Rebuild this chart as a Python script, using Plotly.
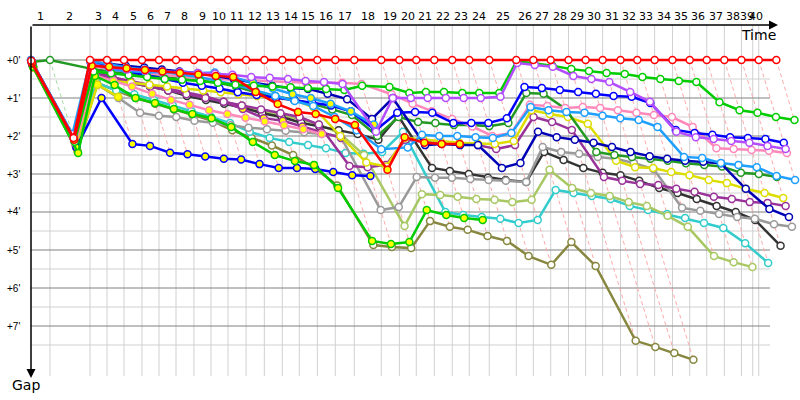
import plotly.graph_objects as go

# ---------------- data ----------------
# leader's cumulative race time at each line crossing (minutes), crossing 0 = start
leader_cross = [0.00, 1.65, 5.13, 6.61, 8.09, 9.65, 11.13, 12.61, 14.17, 15.65,
                17.13, 18.70, 20.29, 21.85, 23.33, 24.90, 26.46, 28.11, 30.46, 32.03,
                33.50, 35.07, 36.63, 38.11, 39.85, 42.20, 43.68, 45.19, 46.74, 48.23,
                49.71, 51.26, 52.72, 54.23, 55.78, 57.28, 58.76, 60.29, 61.78, 63.28,
                64.81]
# leader of each crossing (the dashed "same lap" lines take his colour)
crossing_leader = ["FG"] * 2 + ["LEAD"] * 39
# vertical lap grid (minutes)
grid_times = [1.65, 5.13, 6.61, 8.09, 9.65, 11.13, 12.61, 14.17, 15.65, 17.13,
              18.70, 20.29, 21.85, 23.33, 24.90, 26.46, 28.11, 30.46, 32.03, 33.50,
              35.07, 36.63, 38.11, 39.85, 42.20, 43.68, 45.19, 46.74, 48.23, 49.71,
              51.26, 52.72, 54.23, 55.78, 57.28, 58.76, 60.29, 61.78, 62.76, 63.28]
lap_labels = [str(i) for i in range(1, 41)]
gap_ticks = [0, 1, 2, 3, 4, 5, 6, 7]
gap_tick_labels = ["+0'", "+1'", "+2'", "+3'", "+4'", "+5'", "+6'", "+7'"]

N = None
# gaps to leader (minutes) at crossings 0..40
LEAD = [0.02, 2.05] + [0.0] * 39
RY = [0.08, 2.1, 0.15, 0.18, 0.22, 0.26, 0.3, 0.34, 0.38, 0.42, 0.45, 0.84, 1.16, 1.37, 1.42,
      1.55, 1.71, 2.89, 2.03, 2.18, 2.21, 2.21] + [N] * 19
G1 = [0.1, 2.15, 0.3, 0.35, 0.4, 0.45, 0.5, 0.52, 0.55, 0.6, 0.65, 0.68, 0.7, 0.72, 0.74, 0.76,
      0.79, 0.68, 0.71, 0.87, 0.84, 0.84, 0.87, 0.87, 0.87, 0.03, 0.08, 0.15, 0.24, 0.29, 0.34,
      0.37, 0.45, 0.5, 0.55, 0.58, 1.11, 1.32, 1.39, 1.5, 1.58]
GY = [0.18, 2.45, 0.42, 0.66, 1.0, 1.13, 1.29, 1.42, 1.53, 1.76, 2.16, 2.5, 2.66, 2.76, 3.37,
      4.76, 4.84, 4.79, 3.95, 4.08, 4.16, 4.21] + [N] * 19
BY = [0.12, 2.3, 1.0, 2.21, 2.26, 2.44, 2.48, 2.54, 2.6, 2.62, 2.74, 2.84, 2.84, 2.87, 2.95,
      3.03, 3.05] + [N] * 24
BL = [0.0, 2.0, 0.1, 0.2, 0.3, 0.4, 0.5, 0.6, 0.68, 0.75, 0.85, 0.92, 1.0, 1.05, 1.12, 1.2,
      1.35, 1.85, 1.39, 1.37, 1.39, 1.66, 1.66, 1.66, 1.53, 0.71, 0.74, 0.79, 0.84, 0.89, 0.95,
      0.97, 1.13, 1.84, 1.92, 1.97, 2.03, 2.05, 2.08, 2.18, N]
DB = [0.02, 2.0, 0.08, 0.1, 0.15, 0.2, 0.25, 0.3, 0.35, 0.42, 0.5, 0.6, 0.68, 0.74, 0.76, 0.89,
      1.03, 1.55, 1.0, 2.24, 2.21, 2.24, 2.24, 2.84, 2.71, 1.89, 2.03, 2.1, 2.18, 2.29, 2.42,
      2.53, 2.6, 2.65, 2.68, 2.72, 3.39, 3.92, 4.13, N, N]
VI = [0.05, 2.05, 0.12, 0.2, 0.25, 0.28, 0.3, 0.32, 0.34, 0.36, 0.39, 0.45, 0.47, 0.5, 0.55,
      0.58, 0.63, 1.89, 1.0, 1.0, 1.0, 1.0, 1.0, 1.0, 0.97, 0.08, 0.13, 0.18, 0.42, 0.5, 0.58,
      0.84, 1.1, 1.89, 2.03, 2.08, 2.13, 2.18, 2.26, 2.34, N]
PK = [0.1, 2.1, 0.15, 0.25, 0.3, 0.35, 0.4, 0.45, 0.48, 0.5, 0.52, 0.55, 0.57, 0.58, 0.6, 0.6,
      0.6, 0.63, 0.9, 1.15, 1.35, 1.55, 1.75, 2.0, 1.92, 1.18, 1.21, 1.26, 1.24, 1.26, 1.32,
      1.39, 1.45, 1.5, 1.76, 2.32, 2.34, 2.37, 2.39, 2.45, N]
PKY = [0.14, 2.2, 0.4, 0.55, 0.7, 0.89, 1.05, 1.18, 1.32, 1.42, 1.52, 1.62, 1.72, 1.82,
       1.95] + [N] * 26
LB = [0.0, 1.95, 0.02, 0.12, 0.2, 0.25, 0.3, 0.38, 0.45, 0.55, 0.65, 0.8, 0.95, 1.08, 1.21,
      1.5, 1.85, 2.35, 2.3, 1.97, 2.0, 2.0, 2.03, 2.05, 1.92, 1.24, 1.32, 1.37, 1.39, 1.47,
      1.53, 1.58, 1.76, 2.55, 2.58, 2.71, 2.76, 2.82, 3.05, 3.16, N]
LBY = [0.06, 2.0, 0.05, 0.26, 0.29, 0.32, 0.32, 0.32, 0.34, 0.33, 0.45, 0.6, 0.75, 0.9, 1.0,
       1.15, 1.35, 1.7] + [N] * 23
FG = [0.05, 0.0, 0.24, 0.3, 0.35, 0.4, 0.45, 0.5, 0.55, 0.6, 0.7, 0.85, 0.95, 1.05, 1.15,
      1.3, 1.45, 2.0, 1.5, 1.63, 1.66, 1.71, 1.71, 1.74, 1.66, 0.87, 0.89, 1.29, 2.42, 2.5,
      2.55, 2.6, 2.65, 2.72, 2.76, 2.8, 2.97, 3.0, 3.08, N, N]
YE = [0.16, 2.25, 0.45, 0.55, 0.6, 0.65, 0.7, 0.75, 0.8, 0.85, 0.9, 0.95, 1.0, 1.05, 1.25,
      2.0, 2.7, 2.8, 2.05, 2.1, 2.15, 2.18, 2.2, 2.21, 2.13, 1.32, 1.42, 1.5, 1.68, 2.65, 2.82,
      2.84, 2.95, 3.03, 3.16, 3.24, 3.39, 3.5, 3.63, N, N]
YEY = [0.2, 2.35, 0.65, 0.97] + [N] * 37
PU = [0.15, 2.2, 0.35, 0.5, 0.6, 0.7, 0.8, 0.9, 1.0, 1.1, 1.2, 1.3, 1.4, 1.5, 1.7, 2.79,
      2.82, 2.76, 2.1, 2.15, 2.2, 2.22, 2.24, 2.34, 2.24, 1.5, 1.63, 1.84, 3.08, 3.18, 3.26,
      3.29, 3.39, 3.47, 3.6, 3.66, 3.74, 3.76, 3.84, N, N]
PUY = [0.15, 2.25, 0.3, 0.45, 0.55, 0.65, 0.75, 0.85, 0.95, 1.1, 1.29, 1.53, 1.6, 1.75, 1.9,
       2.05] + [N] * 25
GR = [0.2, 2.3, 0.65, 1.0, 1.39, 1.47, 1.5, 1.6, 1.65, 1.72, 1.78, 1.82, 1.86, 1.9, 1.95,
      2.0, 3.95, 3.87, 3.08, 3.1, 3.1, 3.13, 3.16, 3.18, 3.21, 2.29, 2.42, 2.47, 2.55, 2.6,
      2.71, 2.87, 3.89, 3.97, 4.05, 4.13, 4.18, 4.32, 4.39, N, N]
BK = [0.12, 2.15, 0.3, 0.45, 0.6, 0.7, 0.8, 0.95, 1.05, 1.15, 1.25, 1.4, 1.5, 1.65, 1.75,
      1.85, 1.95, 2.1, 1.47, 2.84, 2.92, 3.0, 3.1, 3.16, 3.21, 2.42, 2.63, 2.84, 2.97, 3.03,
      3.18, 3.37, 3.5, 3.66, 3.84, 4.0, 4.21, 4.89, N, N, N]
LG = [0.16, 2.25, 0.35, 0.5, 0.6, 0.7, 0.8, 0.9, 1.0, 1.1, 1.2, 1.35, 1.45, 1.55, 1.7, 1.92,
      2.5, 4.37, 3.53, 3.55, 3.6, 3.66, 3.68, 3.74, 3.68, 2.89, 3.37, 3.5, 3.58, 3.74, 3.84,
      4.1, 4.39, 5.16, 5.32, 5.45] + [N] * 5
CY = [0.1, 2.2, 0.6, 0.8, 0.9, 1.05, 1.2, 1.35, 1.5, 1.66, 1.89, 2.05, 2.16, 2.24, 2.32,
      2.45, 2.47, 2.42, 1.89, 4.0, 4.08, 4.13, 4.18, 4.29, 4.21, 3.42, 3.5, 3.58, 3.66, 3.84,
      3.95, 4.05, 4.16, 4.29, 4.42, 4.82, 5.34] + [N] * 4
OL = [0.2, 2.4, 0.6, 0.8, 1.0, 1.15, 1.3, 1.45, 1.6, 1.85, 2.05, 2.25, 2.5, 2.85, 3.3, 4.87,
      4.92, 4.95, 4.24, 4.39, 4.47, 4.63, 4.76, 5.16, 5.39, 4.79, 5.42, 7.39, 7.55, 7.71,
      7.89] + [N] * 10

# (code, line colour, marker fill, gaps) -- drawn back to front
drivers = [
    ("OL", "#87873f", "white", OL),
    ("CY", "#33cccc", "white", CY),
    ("LG", "#a8c864", "white", LG),
    ("BK", "#333333", "white", BK),
    ("GR", "#9a9a9a", "white", GR),
    ("PUY", "#993399", "yellow", PUY),
    ("PU", "#993399", "white", PU),
    ("YEY", "#dddd00", "yellow", YEY),
    ("YE", "#dddd00", "white", YE),
    ("FG", "#229922", "white", FG),
    ("PKY", "#ff88bb", "yellow", PKY),
    ("PK", "#ff88bb", "white", PK),
    ("DB", "#0000b4", "white", DB),
    ("BY", "#0000ff", "yellow", BY),
    ("BL", "#0000ff", "white", BL),
    ("LBY", "#1e9fff", "yellow", LBY),
    ("LB", "#1e9fff", "white", LB),
    ("GY", "#00cc00", "yellow", GY),
    ("G1", "#00cc00", "white", G1),
    ("VI", "#b44dff", "white", VI),
    ("RY", "#ff0000", "yellow", RY),
    ("LEAD", "#ff0000", "white", LEAD),
]
dash_colour = {"LEAD": "#ffaaaa", "FG": "#a8dca8"}

# ---------------- layout constants ----------------
PX_PER_MIN_X = 11.5
PX_PER_MIN_Y = 38.0
W, H = 800, 400
ML, MT, MB = 31, 25, 24
PW, PH = W - ML, H - MT - MB
y_top = -(60 - MT) / PX_PER_MIN_Y
y_bot = y_top + PH / PX_PER_MIN_Y
x_max = PW / PX_PER_MIN_X
x_grid_end = (770 - ML) / PX_PER_MIN_X


def px(xp):
    return (xp - ML) / PW


def py(yp):
    return 1 - (yp - MT) / PH


fig = go.Figure()

# same-lap dashed lines from each leader crossing
all_gaps = [d[3] for d in drivers]
for j in range(1, len(leader_cross)):
    vals = [g[j] for g in all_gaps if g[j] is not None]
    gmax = max(vals)
    t = leader_cross[j]
    fig.add_trace(go.Scatter(x=[t, t + gmax], y=[0, gmax], mode="lines",
                             line=dict(color=dash_colour[crossing_leader[j]], width=1, dash="4px,3px"),
                             hoverinfo="skip", showlegend=False))

for code, col, fill, gaps in drivers:
    xs, ys = [], []
    for j, g in enumerate(gaps):
        if g is None:
            continue
        xs.append(leader_cross[j] + g)
        ys.append(g)
    fig.add_trace(go.Scatter(x=xs, y=ys, mode="lines+markers", name=code,
                             line=dict(color=col, width=2.5),
                             marker=dict(size=7, color=fill, line=dict(color=col, width=1.5)),
                             showlegend=False, cliponaxis=False))

shapes = []
for t in grid_times:
    shapes.append(dict(type="line", x0=t, x1=t, y0=y_top, y1=y_bot, layer="below",
                       line=dict(color="#d0d0d0", width=1)))
for k in range(0, 16):
    v = k * 0.5
    shapes.append(dict(type="line", x0=0, x1=x_grid_end, y0=v, y1=v, layer="below",
                       line=dict(color="#808080" if k % 2 == 0 else "#d0d0d0", width=1)))

ann = []
edges = [0.0] + grid_times
for i, lab in enumerate(lap_labels):
    xm = (edges[i] + edges[i + 1]) / 2
    ann.append(dict(x=px(ML + xm * PX_PER_MIN_X), y=py(17), xref="paper", yref="paper",
                    text=lab, showarrow=False, font=dict(size=11, color="black", family="DejaVu Sans"),
                    xanchor="center", yanchor="middle"))
for v, lab in zip(gap_ticks, gap_tick_labels):
    ann.append(dict(x=px(22), y=py(60 + v * PX_PER_MIN_Y), xref="paper", yref="paper", text=lab,
                    showarrow=False, font=dict(size=10, color="black", family="Liberation Sans"),
                    xanchor="right", yanchor="middle"))
# axis arrows
ann.append(dict(x=(778 - ML) / PX_PER_MIN_X, y=y_top, ax=0, ay=y_top, xref="x", yref="y",
                axref="x", ayref="y", text="", showarrow=True, arrowhead=2, arrowsize=1.2,
                arrowwidth=1.5, arrowcolor="black", standoff=0, startstandoff=0))
ann.append(dict(x=0, y=(378 - 60) / PX_PER_MIN_Y, ax=0, ay=y_top, xref="x", yref="y",
                axref="x", ayref="y", text="", showarrow=True, arrowhead=2, arrowsize=1.2,
                arrowwidth=1.5, arrowcolor="black", standoff=0, startstandoff=0))
ann.append(dict(x=px(778), y=py(35), xref="paper", yref="paper",
                text="Time", showarrow=False, xanchor="right", yanchor="middle",
                font=dict(size=14, color="black", family="DejaVu Sans")))
ann.append(dict(x=px(10), y=py(385), xref="paper", yref="paper",
                text="Gap", showarrow=False, xanchor="left", yanchor="middle",
                font=dict(size=14, color="black", family="DejaVu Sans")))

fig.update_layout(
    width=W, height=H, margin=dict(l=ML, r=0, t=MT, b=MB),
    paper_bgcolor="white", plot_bgcolor="white",
    xaxis=dict(range=[0, x_max], visible=False, fixedrange=True),
    yaxis=dict(range=[y_bot, y_top], visible=False, fixedrange=True),
    shapes=shapes, annotations=ann, showlegend=False,
)
fig.write_html("out.html", config={"displayModeBar": False},
               post_script="document.body.style.margin='0';document.body.style.overflow='hidden';")
